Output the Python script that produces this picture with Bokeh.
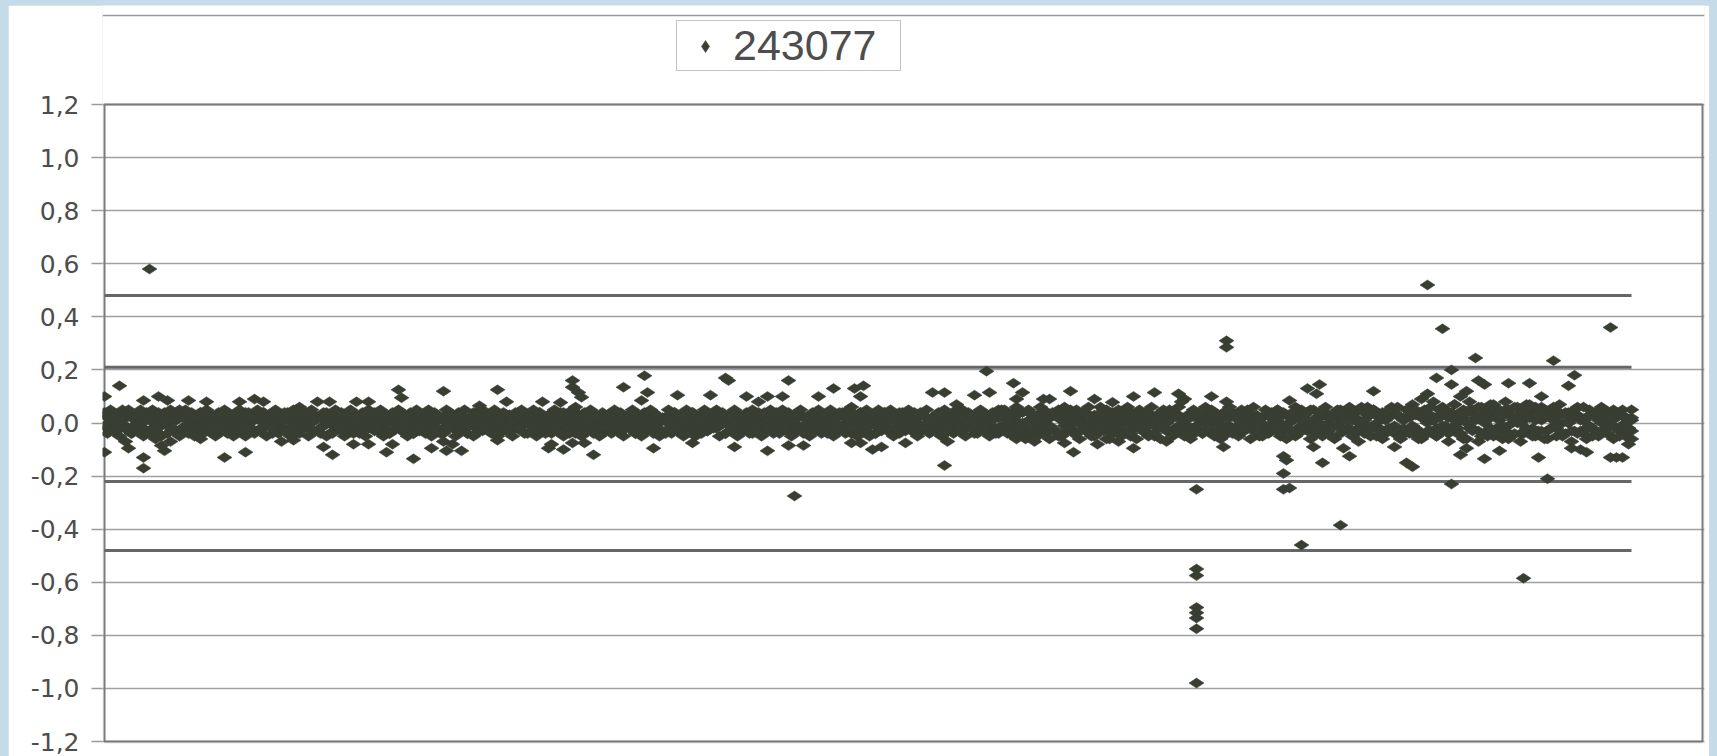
import math
from bokeh.plotting import figure
from bokeh.models import (ColumnDataSource, Range1d, FixedTicker, Legend, LegendItem,
                          GlobalInlineStyleSheet, Span)
from bokeh.embed import file_html
from bokeh.resources import INLINE

# ---------------- data ----------------
series_name = "243077"

# log2 ratio of the dense probe band, in probe order (x = probe index), spot A
core_ratio = [
    0.03, -0.02, 0.04, 0.01, -0.03, 0.02, 0.05, -0.01, 0.03, -0.04, 0.02, 0.00, 0.04, -0.02, 0.01,
    -0.03, 0.03, 0.00, -0.04, 0.02, 0.04, -0.01, 0.03, -0.03, 0.01, 0.05, -0.02, 0.02, -0.04, 0.03,
    0.00, -0.03, 0.04, 0.01, -0.02, 0.03, -0.04, 0.02, 0.00, 0.04, -0.03, 0.01, -0.01, 0.03, -0.02,
    0.02, -0.04, 0.04, 0.00, -0.02, 0.03, -0.03, 0.01, 0.04, -0.01, 0.02, -0.04, 0.03, 0.00, -0.02,
    0.04, -0.03, 0.01, 0.03, -0.01, -0.04, 0.02, 0.04, -0.02, 0.00, 0.03, -0.03, 0.02, -0.01, 0.04,
    -0.04, 0.01, 0.03, -0.02, 0.02, 0.00, -0.03, 0.04, -0.01, 0.03, -0.04, 0.02, 0.01, -0.02, 0.03,
    -0.03, 0.04, 0.00, -0.01, 0.02, -0.04, 0.03, 0.01, -0.02, 0.04, -0.03, 0.02, 0.00, -0.04, 0.03,
    0.01, -0.02, 0.04, -0.03, 0.02, 0.00, 0.03, -0.04, 0.01, -0.01, 0.04, -0.02, 0.02, -0.03, 0.03,
    0.00, -0.04, 0.02, 0.04, -0.02, 0.01, -0.03, 0.03, 0.00, -0.01, 0.04, -0.04, 0.02, 0.01, -0.02,
    0.03, -0.03, 0.00, 0.04, -0.01, 0.02, -0.04, 0.03, 0.01, -0.02, 0.04, -0.03, 0.02, 0.00, -0.04,
    0.03, 0.01, -0.02, 0.04, -0.03, 0.02, 0.00, -0.04, 0.03, -0.01, 0.02, -0.03, 0.04, 0.01, -0.02,
    0.02, -0.04, 0.03, 0.00, -0.01, 0.04, -0.03, 0.01, 0.03, -0.02, 0.00, 0.04, -0.04, 0.02, -0.01,
    0.03, -0.03, 0.01, 0.04, -0.02, 0.00, 0.02, -0.04, 0.03, -0.01, 0.04, -0.03, 0.01, 0.02, -0.02,
    0.00, 0.04, -0.04, 0.02, -0.01, 0.03, -0.03, 0.01, 0.04, -0.02, 0.02, 0.00, -0.04, 0.03, -0.01,
    0.04, -0.02, 0.01, -0.03, 0.03, 0.00, -0.04, 0.02, 0.04, -0.01, 0.03, -0.03, 0.01, -0.02, 0.04,
    -0.03, 0.02, 0.00, 0.03, -0.04, 0.01, 0.04, -0.02, 0.02, -0.01, -0.03, 0.03, 0.00, 0.04, -0.04,
    0.02, -0.02, 0.03, 0.01, -0.03, 0.04, -0.01, 0.00, 0.02, -0.04, 0.03, -0.02, 0.04, 0.01, -0.03,
    0.02, 0.00, -0.04, 0.03, -0.01, 0.04, -0.03, 0.01, 0.02, -0.02, 0.04, 0.00, -0.03, 0.03, -0.01,
    0.01, -0.04, 0.04, -0.02, 0.02, 0.00, -0.03, 0.03, -0.01, 0.04, -0.04, 0.01, 0.03, -0.02, 0.00,
    0.04, -0.03, 0.02, -0.01, 0.03, -0.04, 0.01, 0.04, -0.02, 0.00, 0.03, -0.03, 0.02, -0.04, 0.05,
    -0.01, 0.03, -0.04, 0.02, 0.05, -0.02, 0.00, -0.05, 0.04, 0.01, -0.03, 0.03, -0.01, 0.05, -0.04,
    0.02, -0.02, 0.04, -0.05, 0.01, 0.03, -0.03, 0.05, 0.00, -0.04, 0.02, -0.01, 0.04, -0.03, 0.01,
    -0.05, 0.03, 0.00, 0.05, -0.02, 0.02, -0.04, 0.04, -0.01, 0.01, -0.03, 0.05, -0.05, 0.02, 0.00,
    0.04, -0.03, 0.01, -0.01, 0.03, -0.05, 0.02, 0.04, -0.02, 0.00, 0.05, -0.04, 0.03, -0.01, 0.01,
    -0.03, 0.02, -0.05, 0.04, -0.01, 0.01, -0.04, 0.03, -0.02, 0.00, 0.04, -0.03, 0.02, -0.05, 0.03,
    -0.01, 0.04, -0.04, 0.01, 0.02, -0.03, 0.05, -0.02, 0.00, 0.03, -0.05, 0.02, -0.01, 0.04, -0.03,
    0.01, 0.05, -0.04, 0.03, -0.02, 0.00, 0.04, -0.05, 0.02, -0.01, 0.03, -0.03, 0.05, 0.01, -0.04,
    0.02, -0.02, 0.04, 0.00, -0.05, 0.03, -0.01, 0.05, -0.03, 0.01, 0.04, -0.04, 0.02, -0.02, 0.06,
    -0.03, 0.03, -0.05, 0.05, 0.00, -0.02, 0.04, -0.04, 0.02, 0.06, -0.01, 0.03, -0.06, 0.01, 0.05,
    -0.04, 0.07, -0.02, 0.03, -0.06, 0.05, 0.00, -0.03, 0.08, -0.05, 0.02, 0.06, -0.01, -0.07, 0.04,
    0.07, -0.04, 0.01, 0.05, -0.06, 0.08, -0.02, 0.03, -0.07, 0.06, 0.00, -0.03, 0.07, -0.05, 0.02,
    0.05, -0.06, 0.08, -0.01, 0.03, -0.04, 0.06, -0.07, 0.01, 0.07, -0.03, 0.04, -0.05, 0.02, 0.06,
    -0.06, 0.03, -0.02, 0.05, -0.05, 0.07, 0.00, -0.04, 0.04, -0.07, 0.02, 0.06, -0.03, 0.01, -0.06,
    0.05, -0.02, 0.03, -0.05, 0.06, 0.00, -0.04, 0.04, -0.06, 0.02, -0.03, 0.05, -0.05, 0.01, -0.03,
]

# replicate spot B of the same probes
core_ratio_rep = [
    -0.01, 0.02, -0.03, 0.00, 0.03, -0.02, 0.01, 0.04, -0.03, 0.02, -0.01, 0.03, -0.02, 0.01, 0.04,
    0.01, -0.02, 0.03, 0.02, -0.01, 0.00, 0.03, -0.02, 0.01, 0.04, -0.03, 0.02, -0.01, 0.01, -0.02,
    0.03, 0.01, -0.01, 0.03, 0.00, -0.02, 0.02, -0.01, 0.03, -0.03, 0.01, 0.04, 0.02, -0.02, 0.01,
    -0.01, 0.03, 0.00, -0.03, 0.02, 0.01, 0.03, -0.02, 0.00, 0.02, -0.01, 0.01, -0.03, 0.03, 0.01,
    -0.02, 0.01, 0.04, -0.01, 0.02, 0.01, -0.02, 0.00, 0.03, -0.03, 0.01, 0.02, -0.02, 0.03, 0.00,
    0.02, -0.01, 0.00, 0.03, -0.03, 0.02, 0.01, -0.01, 0.03, 0.00, 0.01, -0.02, 0.04, 0.00, -0.01,
    0.01, -0.01, 0.03, 0.02, -0.03, 0.01, 0.00, -0.02, 0.03, 0.01, 0.00, -0.02, 0.03, 0.01, -0.01,
    -0.03, 0.03, 0.00, 0.01, -0.01, 0.03, -0.02, 0.02, -0.03, 0.03, 0.00, 0.02, -0.01, 0.01, -0.02,
    0.02, 0.01, -0.01, 0.00, 0.03, -0.03, 0.02, -0.01, 0.03, 0.02, -0.02, 0.01, 0.00, -0.03, 0.03,
    -0.01, 0.01, 0.03, -0.02, 0.02, 0.00, 0.01, -0.01, -0.03, 0.03, 0.00, 0.01, -0.02, 0.03, 0.01,
    -0.01, -0.03, 0.02, 0.00, 0.01, -0.02, 0.03, 0.02, -0.01, 0.01, -0.03, 0.02, 0.00, -0.02, 0.03,
    -0.01, 0.01, -0.02, 0.03, 0.02, -0.01, 0.01, -0.03, 0.00, 0.02, 0.03, -0.01, 0.01, -0.02, 0.03,
    0.00, 0.02, -0.02, -0.01, 0.03, 0.01, -0.03, 0.02, 0.00, 0.03, -0.01, 0.01, -0.02, 0.00, 0.03,
    0.02, -0.02, 0.01, -0.01, 0.03, 0.00, 0.02, -0.02, 0.00, 0.03, -0.01, 0.03, 0.01, -0.01, 0.02,
    -0.01, 0.02, -0.03, 0.02, 0.00, 0.03, 0.01, -0.02, -0.01, 0.02, 0.00, 0.01, -0.03, 0.03, -0.01,
    0.01, -0.01, 0.03, -0.02, 0.02, 0.00, -0.02, 0.03, -0.01, 0.02, 0.01, -0.01, 0.03, -0.02, 0.01,
    -0.01, 0.03, 0.00, -0.02, 0.02, -0.01, 0.03, 0.02, -0.03, 0.01, -0.01, 0.02, 0.00, -0.02, 0.02,
    -0.01, 0.03, 0.01, -0.02, 0.02, -0.01, 0.01, 0.03, -0.02, 0.01, -0.01, 0.03, 0.01, -0.02, 0.02,
    -0.02, 0.02, -0.01, 0.03, 0.00, -0.02, 0.02, 0.00, 0.03, -0.02, 0.01, -0.01, 0.00, 0.02, -0.03,
    0.01, 0.02, -0.01, 0.03, -0.02, 0.01, -0.02, 0.02, 0.00, 0.03, -0.01, 0.01, -0.02, 0.02, -0.01,
    0.02, -0.03, 0.01, -0.01, 0.03, 0.00, 0.04, -0.02, 0.01, -0.04, 0.02, 0.00, 0.03, -0.02, 0.01,
    -0.01, 0.03, -0.03, 0.02, 0.04, -0.01, 0.01, -0.02, 0.03, 0.02, -0.03, 0.04, 0.00, 0.01, -0.02,
    0.02, -0.01, 0.03, -0.03, 0.01, 0.04, 0.00, -0.02, 0.02, -0.04, 0.03, 0.00, 0.02, -0.02, 0.04,
    -0.01, 0.02, -0.03, 0.03, 0.00, 0.01, -0.02, 0.00, 0.03, -0.03, 0.01, 0.02, -0.02, 0.03, -0.03,
    0.01, -0.01, 0.02, -0.02, 0.03, -0.03, 0.01, 0.00, 0.02, -0.04, 0.01, 0.00, -0.01, 0.02, -0.01,
    0.02, -0.02, 0.03, -0.01, 0.00, 0.03, -0.02, 0.01, -0.03, 0.02, 0.00, -0.02, 0.03, -0.01, 0.02,
    -0.02, 0.02, 0.00, -0.01, 0.03, -0.03, 0.01, 0.02, -0.02, 0.03, 0.00, 0.01, -0.01, -0.03, 0.02,
    0.00, 0.03, -0.02, 0.02, 0.03, -0.01, 0.02, -0.02, 0.01, 0.03, -0.02, 0.01, 0.04, 0.00, -0.02,
    0.01, -0.01, 0.03, -0.02, 0.04, 0.02, -0.03, 0.01, -0.02, 0.03, 0.04, -0.04, 0.02, -0.02, 0.02,
    0.02, -0.01, 0.05, -0.03, 0.02, 0.04, -0.04, 0.03, 0.01, -0.02, 0.05, -0.03, 0.04, 0.02, -0.02,
    0.03, 0.00, -0.04, 0.02, 0.04, -0.02, 0.05, 0.01, -0.03, 0.03, 0.05, -0.05, 0.02, 0.04, -0.02,
    0.01, 0.03, -0.03, 0.05, -0.05, 0.01, 0.03, 0.00, -0.04, 0.04, 0.02, -0.02, 0.06, -0.03, 0.01,
    0.02, -0.03, 0.05, 0.01, -0.02, 0.03, -0.04, 0.04, 0.00, 0.02, -0.03, 0.03, 0.01, -0.04, 0.02,
    -0.01, 0.03, -0.03, 0.02, 0.00, 0.04, -0.02, 0.01, 0.02, -0.02, 0.03, -0.01, 0.02, -0.02, 0.01,
]

# replicate spot C, probes 0..439 (edges of the band)
core_ratio_rep_c = [
    0.04, -0.04, 0.05, -0.03, 0.03, -0.05, 0.04, -0.02, 0.05, -0.04, 0.03, -0.03, 0.05, -0.05, 0.02,
    -0.04, 0.05, -0.03, 0.04, -0.05, 0.03, -0.04, 0.05, -0.02, 0.04, -0.05, 0.03, 0.05, -0.03, 0.04,
    -0.05, 0.02, 0.04, -0.04, 0.05, -0.03, 0.03, -0.05, 0.04, -0.02, 0.05, -0.04, 0.03, -0.05, 0.04,
    0.05, -0.03, -0.05, 0.04, 0.02, -0.04, 0.05, -0.03, 0.04, -0.05, 0.03, -0.02, 0.05, -0.04, 0.03,
    -0.03, 0.04, -0.05, 0.05, -0.04, 0.03, -0.02, 0.04, -0.05, 0.05, -0.03, 0.02, -0.04, 0.04, -0.05,
    0.03, -0.04, 0.05, -0.02, 0.04, -0.05, 0.03, 0.05, -0.04, 0.02, -0.03, 0.04, -0.05, 0.05, -0.02,
    0.04, -0.03, 0.05, -0.05, 0.03, -0.04, 0.04, -0.02, 0.05, -0.03, 0.02, -0.05, 0.04, -0.04, 0.05,
    -0.02, 0.03, -0.04, 0.05, -0.05, 0.04, -0.03, 0.02, -0.04, 0.05, -0.02, 0.03, -0.05, 0.04, -0.03,
    0.05, -0.04, 0.02, -0.05, 0.04, -0.03, 0.05, -0.02, 0.03, -0.04, 0.05, -0.05, 0.02, 0.04, -0.03,
    0.03, -0.05, 0.04, -0.02, 0.05, -0.04, 0.03, -0.03, 0.05, -0.05, 0.04, 0.02, -0.04, 0.03, -0.02,
    0.05, -0.03, 0.04, -0.05, 0.02, -0.04, 0.05, -0.02, 0.03, -0.05, 0.04, -0.03, 0.05, -0.04, 0.02,
    -0.05, 0.04, -0.02, 0.03, -0.04, 0.05, -0.03, 0.04, -0.05, 0.02, -0.02, 0.05, -0.04, 0.03, -0.05,
    0.04, -0.02, 0.05, -0.04, 0.03, -0.05, 0.02, -0.03, 0.05, -0.04, 0.04, -0.02, 0.03, -0.05, 0.05,
    -0.03, 0.04, -0.05, 0.02, -0.04, 0.05, -0.03, 0.03, -0.02, 0.05, -0.05, 0.04, -0.04, 0.02, -0.03,
    0.05, -0.05, 0.03, -0.02, 0.04, -0.04, 0.05, -0.03, 0.02, -0.05, 0.04, -0.02, 0.05, -0.04, 0.03,
    -0.04, 0.05, -0.02, 0.04, -0.05, 0.03, -0.03, 0.05, -0.04, 0.02, -0.05, 0.04, -0.03, 0.05, -0.02,
    0.03, -0.04, 0.05, -0.05, 0.02, -0.03, 0.04, -0.04, 0.05, -0.02, 0.03, -0.05, 0.04, -0.03, 0.05,
    -0.05, 0.02, -0.04, 0.05, -0.03, 0.04, -0.02, 0.05, -0.05, 0.03, -0.04, 0.04, -0.02, 0.05, -0.03,
    0.04, -0.05, 0.03, -0.02, 0.05, -0.04, 0.02, -0.03, 0.04, -0.05, 0.05, -0.02, 0.03, -0.04, 0.05,
    -0.03, 0.05, -0.05, 0.04, -0.02, 0.03, -0.04, 0.05, -0.03, 0.02, -0.05, 0.04, -0.04, 0.05, -0.02,
    0.05, -0.04, 0.03, -0.05, 0.06, -0.03, 0.04, -0.06, 0.05, -0.02, 0.03, -0.05, 0.06, -0.04, 0.02,
    -0.06, 0.04, -0.03, 0.05, -0.05, 0.06, -0.02, 0.03, -0.04, 0.05, -0.06, 0.04, -0.03, 0.06, -0.05,
    0.03, -0.04, 0.06, -0.02, 0.05, -0.06, 0.04, -0.03, 0.05, -0.05, 0.02, 0.06, -0.04, 0.03, -0.06,
    0.05, -0.03, 0.04, -0.05, 0.06, -0.04, 0.02, -0.06, 0.05, -0.02, 0.04, -0.05, 0.03, 0.06, -0.04,
    -0.05, 0.03, -0.06, 0.05, -0.03, 0.04, -0.04, 0.06, -0.02, 0.05, -0.05, 0.03, -0.06, 0.04, -0.03,
    0.06, -0.04, 0.03, -0.05, 0.05, -0.02, 0.04, -0.06, 0.06, -0.03, 0.02, -0.05, 0.05, -0.04, 0.04,
    -0.02, 0.05, -0.05, 0.04, -0.06, 0.03, -0.03, 0.06, -0.04, 0.05, -0.02, 0.04, -0.06, 0.05, -0.03,
    0.04, -0.05, 0.06, -0.03, 0.02, -0.06, 0.05, -0.04, 0.03, -0.02, 0.06, -0.05, 0.04, -0.03, 0.05,
    -0.04, 0.06, -0.02, 0.05, -0.05, 0.03, -0.06, 0.04, -0.03, 0.05, -0.04, 0.06, -0.05, 0.02, -0.03,
    0.05, -0.04, 0.03, -0.06, 0.04,
]

# third spot, only for the noisier distal stretch of probes
tail_start = 440
core_ratio_tail = [
    0.04, -0.03, 0.06, 0.01, -0.05, 0.03, -0.01, 0.05, -0.04, 0.02, 0.07, -0.02, 0.04, -0.06, 0.00,
    0.05, -0.03, 0.02, 0.06, -0.05, 0.01, 0.04, -0.02, 0.07, -0.04, 0.03, -0.01, 0.05, -0.06, 0.02,
    0.06, 0.00, -0.04, 0.04, -0.02, 0.07, -0.05, 0.01, 0.03, -0.03, 0.05, -0.06, 0.02, 0.06, -0.01,
    0.04, -0.05, 0.03, 0.00, -0.03, 0.05, -0.04, 0.02, 0.06, -0.02, 0.03, -0.05, 0.04, 0.01, -0.03,
    0.05, -0.04, 0.02, -0.01, 0.04, -0.05, 0.03, 0.00, -0.02, 0.02,
]

# scattered probes away from the band: probe index and log2 ratio
outlier_probe = [
    15, 5, 0, 13, 18, 21, 28, 34, 45, 50, 53, 65, 71, 75, 84, 88, 98, 99, 113, 125, 131, 134, 146,
    0, 7, 8, 13, 13, 17, 19, 20, 22, 32, 40, 47, 59, 63, 73, 76, 83, 88, 94, 96, 103, 109, 113, 114,
    116, 119, 131, 148,
    156, 156, 158, 159, 152, 157, 173, 180, 181, 179, 191, 202, 207, 208, 214, 218, 221, 226, 228,
    238, 243, 250, 253, 252, 249, 276, 280, 290, 294, 284,
    149, 153, 156, 160, 163, 183, 196, 210, 221, 228, 233, 249, 252, 256, 259, 267, 280, 281, 230,
    374, 374, 303, 295, 306, 304, 313, 315, 322, 330, 336, 343, 350, 358, 360, 359, 369, 374, 401,
    405, 404, 423, 395,
    304, 310, 320, 323, 331, 334, 338, 343, 354, 373, 393, 394, 393, 393, 395, 403, 406, 413, 415,
    418, 430, 434, 436, 399, 412,
    364, 364, 364, 364, 364, 364, 364, 364,
    441, 446, 502, 457, 483, 449, 490, 444, 449, 458, 460, 468, 475, 479, 488, 503, 452, 454, 439, 441,
    449, 481, 504, 502, 506, 489, 492, 494, 478, 460, 452, 454, 465, 473,
    509, 509, 508,
]
outlier_ratio = [
    0.58, 0.14, 0.10, 0.085, 0.10, 0.085, 0.085, 0.08, 0.08, 0.09, 0.08, 0.06, 0.08, 0.08, 0.08, 0.08,
    0.125, 0.095, 0.12, 0.065, 0.125, 0.08, 0.08,
    -0.11, -0.07, -0.095, -0.13, -0.17, -0.06, -0.085, -0.105, -0.07, -0.06, -0.13, -0.11, -0.07,
    -0.065, -0.09, -0.12, -0.08, -0.08, -0.11, -0.08, -0.135, -0.095, -0.07, -0.105, -0.08, -0.105,
    -0.065, -0.095,
    0.16, 0.135, 0.115, 0.097, 0.077, 0.06, 0.135, 0.178, 0.115, 0.085, 0.105, 0.105, 0.17, 0.16,
    0.10, 0.08, 0.10, 0.10, 0.16, 0.10, 0.13, 0.13, 0.14, 0.10, 0.06, 0.115, 0.115, 0.105, 0.195, 0.07,
    -0.08, -0.10, -0.075, -0.075, -0.12, -0.095, -0.075, -0.09, -0.105, -0.085, -0.085, -0.075,
    -0.075, -0.10, -0.09, -0.075, -0.16, -0.07, -0.275,
    0.31, 0.285, 0.15, 0.115, 0.115, 0.09, 0.09, 0.09, 0.12, 0.09, 0.078, 0.10, 0.115, 0.11, 0.09,
    0.08, 0.10, 0.08, 0.13, 0.145, 0.11, 0.12, 0.085,
    -0.06, -0.07, -0.075, -0.11, -0.08, -0.06, -0.07, -0.095, -0.07, -0.09, -0.125, -0.14, -0.19,
    -0.25, -0.245, -0.09, -0.15, -0.095, -0.125, -0.07, -0.09, -0.15, -0.165, -0.46, -0.385,
    -0.25, -0.55, -0.575, -0.695, -0.715, -0.735, -0.775, -0.98,
    0.52, 0.355, 0.36, 0.245, 0.235, 0.20, 0.18, 0.17, 0.145, 0.16, 0.145, 0.15, 0.15, 0.10, 0.14,
    0.05, 0.10, 0.12, 0.09, 0.11,
    -0.23, -0.21, -0.13, -0.13, -0.13, -0.095, -0.10, -0.11, -0.13, -0.135, -0.12, -0.095, -0.105,
    -0.585,
    0.05, -0.06, -0.08,
]

# threshold lines drawn across the probe range
thresholds = [0.48, 0.21, -0.22, -0.48]

y_ticks = [-1.2, -1.0, -0.8, -0.6, -0.4, -0.2, 0.0, 0.2, 0.4, 0.6, 0.8, 1.0, 1.2]
y_tick_labels = ["-1,2", "-1,0", "-0,8", "-0,6", "-0,4", "-0,2", "0,0",
                 "0,2", "0,4", "0,6", "0,8", "1,0", "1,2"]

# ---------------- figure ----------------
n_core = len(core_ratio)
n_rep = len(core_ratio_rep)
n_rep_c = len(core_ratio_rep_c)
n_tail = len(core_ratio_tail)
x_box_right = 532.67          # right edge of the chart box, in probe units
src = ColumnDataSource(data=dict(
    x=(list(range(n_core)) + list(range(n_rep)) + list(range(n_rep_c))
       + list(range(tail_start, tail_start + n_tail)) + outlier_probe),
    y=core_ratio + core_ratio_rep + core_ratio_rep_c + core_ratio_tail + outlier_ratio,
))

y_lo, y_hi = min(y_ticks), max(y_ticks)

p = figure(width=1701, height=751,
           x_range=Range1d(-0.667, 533.33), y_range=Range1d(-1.2075, 1.573),
           output_backend="svg", toolbar_location=None,
           min_border_left=94, min_border_right=5, min_border_top=0, min_border_bottom=13,
           background_fill_color="white", border_fill_color="white")

p.stylesheets = [GlobalInlineStyleSheet(css=(
    "html, body { background-color: #c5dbe8 !important; margin: 0 !important; }"
    " body { box-sizing: border-box !important; height: 100% !important;"
    " padding: 5px 0 0 8px !important; overflow: hidden; }"
))]

p.xaxis.visible = False
p.xgrid.visible = False
p.outline_line_color = None

ticker = FixedTicker(ticks=y_ticks)
p.yaxis.ticker = ticker
p.ygrid.ticker = ticker
p.yaxis.major_label_overrides = {t: lab for t, lab in zip(y_ticks, y_tick_labels)}
p.yaxis.major_label_text_font = "DejaVu Sans"
p.yaxis.major_label_text_font_size = "25px"
p.yaxis.major_label_text_color = "#4d4d4d"
p.yaxis.major_label_standoff = 12
p.yaxis.major_tick_out = 11
p.yaxis.major_tick_in = 0
p.yaxis.minor_tick_out = 0
p.yaxis.minor_tick_in = 0
p.yaxis.major_tick_line_color = "#9a9a9a"
p.yaxis.major_tick_line_width = 1.3
p.yaxis.axis_line_color = None

p.ygrid.grid_line_color = "#a0a0a0"
p.ygrid.grid_line_width = 1.3

# faint edge of the scanned page
p.add_layout(Span(location=1.535, dimension="width", line_color="#9a9a9a", line_width=1.5))

# chart box
p.quad(left=[0], right=[x_box_right], bottom=[y_lo], top=[y_hi],
       fill_color=None, line_color="#7a7a7a", line_width=2)

p.segment(x0=[0] * len(thresholds), x1=[n_core - 1] * len(thresholds),
          y0=thresholds, y1=thresholds, line_color="#666666", line_width=3)

r = p.scatter(x="x", y="y", source=src, marker="diamond", size=15, angle=math.pi / 2,
              fill_color="#393e33", line_color="#393e33", line_width=0.5)

legend = Legend(items=[LegendItem(label=series_name, renderers=[r])],
                location=(574, 672), orientation="horizontal",
                padding=0, margin=0, spacing=0,
                glyph_width=56, glyph_height=30, label_standoff=0, label_width=167,
                label_text_font="Liberation Sans", label_text_font_size="43px",
                label_text_color="#4d4d4d",
                border_line_color="#8a8a8a", border_line_width=1.5,
                background_fill_color="white", background_fill_alpha=1.0)
p.add_layout(legend, "center")

open("out.html", "w").write(file_html(p, INLINE))
